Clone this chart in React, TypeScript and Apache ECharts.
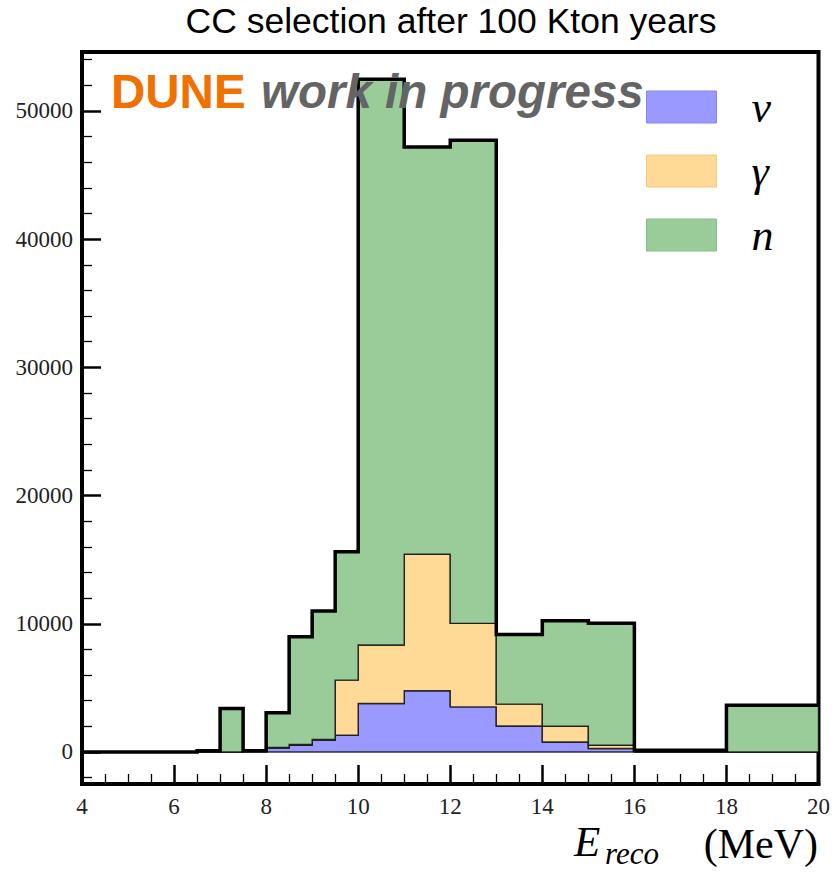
import React, { useEffect, useRef } from 'react';
import * as echarts from 'echarts';

// Histogram bin edges (MeV)
const EDGES = [4, 4.5, 5, 5.5, 6, 6.5, 7, 7.5, 8, 8.5, 9, 9.5, 10, 11, 12, 13, 14, 15, 16, 18, 20];
// Stacked counts per bin
const NU = [0, 0, 0, 0, 0, 0, 0, 40, 300, 520, 900, 1300, 3780, 4770, 3515, 2030, 780, 265, 0, 0];
const GAMMA = [0, 0, 0, 0, 0, 0, 0, 0, 60, 60, 70, 4300, 4560, 10650, 6515, 1700, 1230, 255, 0, 0];
const NEUTRON = [0, 0, 0, 0, 0, 100, 3390, 60, 2690, 8400, 10020, 10025, 44135, 31770, 37680, 5440, 8225, 9510, 130, 3650];

const LAYER_NAMES = ['ν', 'γ', 'n'];
const LAYER_COLORS = ['#9999ff', '#ffd996', '#99cc99'];
const LAYER_BORDERS = ['#8585f5', '#f8c97a', '#84c084'];

const Y_MAJOR = [0, 10000, 20000, 30000, 40000, 50000];
const Y_MINOR = [-2000, 2000, 4000, 6000, 8000, 12000, 14000, 16000, 18000, 22000, 24000, 26000, 28000, 32000, 34000, 36000, 38000, 42000, 44000, 46000, 48000, 52000, 54000];

const TITLE = 'CC selection after 100 Kton years';

export default function App() {
  const ref = useRef<HTMLDivElement>(null);

  useEffect(() => {
    if (!ref.current) return;
    const chart = echarts.init(ref.current, null, { renderer: 'svg' });

    const layerValues = [NU, GAMMA, NEUTRON];
    const nBins = EDGES.length - 1;
    const bottoms: number[][] = [];
    const tops: number[][] = [];
    let cum = new Array(nBins).fill(0);
    layerValues.forEach((vals) => {
      bottoms.push(cum.slice());
      cum = cum.map((c, i) => c + vals[i]);
      tops.push(cum.slice());
    });
    const totals = cum;

    const outline: number[][] = [];
    for (let i = 0; i < nBins; i++) {
      outline.push([EDGES[i], totals[i]]);
      outline.push([EDGES[i + 1], totals[i]]);
    }

    const layerSeries = LAYER_NAMES.map((name, k) => ({
      type: 'custom',
      name,
      xAxisIndex: 0,
      yAxisIndex: 0,
      z: 2,
      itemStyle: { color: LAYER_COLORS[k] },
      data: [[EDGES[0], 0]],
      encode: { x: 0, y: 1 },
      renderItem: (params: any, api: any) => {
        const pts: number[][] = [];
        for (let i = 0; i < nBins; i++) {
          pts.push(api.coord([EDGES[i], tops[k][i]]));
          pts.push(api.coord([EDGES[i + 1], tops[k][i]]));
        }
        for (let i = nBins - 1; i >= 0; i--) {
          pts.push(api.coord([EDGES[i + 1], bottoms[k][i]]));
          pts.push(api.coord([EDGES[i], bottoms[k][i]]));
        }
        return {
          type: 'polygon',
          shape: { points: pts },
          style: { fill: LAYER_COLORS[k], stroke: 'rgba(20,20,20,0.85)', lineWidth: 1.4 },
        };
      },
    }));

    const option: any = {
      animation: false,
      backgroundColor: '#ffffff',
      grid: {
        left: 82,
        right: 13,
        top: 52,
        bottom: 89,
        show: true,
        borderColor: '#000',
        borderWidth: 4,
        backgroundColor: 'transparent',
      },
      xAxis: {
        type: 'value',
        min: 4,
        max: 20,
        interval: 2,
        axisLine: { show: true, onZero: false, lineStyle: { color: '#000', width: 4 } },
        axisTick: { show: true, inside: true, length: 19, lineStyle: { color: '#000', width: 2.5 } },
        minorTick: { show: true, splitNumber: 4, length: 10, lineStyle: { color: '#000', width: 1.3 } },
        splitLine: { show: false },
        axisLabel: {
          margin: 11,
          fontFamily: 'Liberation Serif',
          fontSize: 23,
          color: '#222',
          formatter: (v: number) => String(v),
        },
      },
      yAxis: [
        {
          type: 'value',
          min: -2500,
          max: 54600,
          position: 'left',
          axisLine: { show: true, onZero: false, lineStyle: { color: '#000', width: 4 } },
          axisTick: { show: true, inside: true, length: 19, customValues: Y_MAJOR, lineStyle: { color: '#000', width: 2.5 } },
          splitLine: { show: false },
          axisLabel: {
            margin: 9,
            customValues: Y_MAJOR,
            fontFamily: 'Liberation Serif',
            fontSize: 23,
            color: '#222',
            formatter: (v: number) => String(v),
          },
        },
        {
          type: 'value',
          min: -2500,
          max: 54600,
          position: 'left',
          axisLine: { show: false },
          axisTick: { show: true, inside: true, length: 10, customValues: Y_MINOR, lineStyle: { color: '#000', width: 1.3 } },
          axisLabel: { show: false },
          splitLine: { show: false },
        },
      ],
      legend: {
        orient: 'vertical',
        left: 646,
        top: 85,
        padding: 0,
        itemWidth: 70,
        itemHeight: 32,
        itemGap: 20,
        icon: 'rect',
        data: LAYER_NAMES.map((n, k) => ({
          name: n,
          itemStyle: { color: LAYER_COLORS[k], borderColor: LAYER_BORDERS[k], borderWidth: 1 },
        })),
        textStyle: {
          fontFamily: 'Liberation Serif',
          fontStyle: 'italic',
          fontSize: 44,
          lineHeight: 32,
          color: '#000',
          padding: [0, 0, 0, 30],
        },
      },
      series: [
        ...layerSeries,
        {
          type: 'line',
          name: 'total',
          xAxisIndex: 0,
          yAxisIndex: 0,
          z: 5,
          data: outline,
          showSymbol: false,
          symbol: 'none',
          silent: true,
          lineStyle: { color: '#000', width: 3.5, join: 'miter' },
        },
      ],
      graphic: [
        {
          type: 'text',
          x: 451,
          y: 21,
          z: 100,
          style: {
            text: TITLE,
            fontFamily: 'Liberation Sans',
            fontSize: 35.5,
            fill: '#000',
            align: 'center',
            verticalAlign: 'middle',
          },
        },
        {
          type: 'text',
          x: 111,
          y: 91,
          z: 100,
          style: {
            text: 'DUNE',
            fontFamily: 'Liberation Sans',
            fontWeight: 'bold',
            fontSize: 47.5,
            fill: '#f07000',
            align: 'left',
            verticalAlign: 'middle',
          },
        },
        {
          type: 'text',
          x: 261,
          y: 91,
          z: 100,
          style: {
            text: 'work in progress',
            fontFamily: 'Liberation Sans',
            fontWeight: 'bold',
            fontStyle: 'italic',
            fontSize: 47.5,
            fill: '#646464',
            align: 'left',
            verticalAlign: 'middle',
          },
        },
        {
          type: 'text',
          x: 818,
          y: 844,
          z: 100,
          style: {
            text: '(MeV)',
            fontFamily: 'Liberation Serif',
            fontSize: 42,
            fill: '#000',
            align: 'right',
            verticalAlign: 'middle',
          },
        },
        {
          type: 'text',
          x: 574,
          y: 841,
          z: 100,
          style: {
            text: 'E',
            fontFamily: 'Liberation Serif',
            fontStyle: 'italic',
            fontSize: 43,
            fill: '#000',
            align: 'left',
            verticalAlign: 'middle',
          },
        },
        {
          type: 'text',
          x: 605,
          y: 853,
          z: 100,
          style: {
            text: 'reco',
            fontFamily: 'Liberation Serif',
            fontStyle: 'italic',
            fontSize: 31,
            fill: '#000',
            align: 'left',
            verticalAlign: 'middle',
          },
        },
      ],
    };

    chart.setOption(option);
    return () => chart.dispose();
  }, []);

  return (
    <div
      ref={ref}
      style={{ position: 'fixed', left: 0, top: 0, width: 833, height: 873, background: '#fff' }}
    />
  );
}
